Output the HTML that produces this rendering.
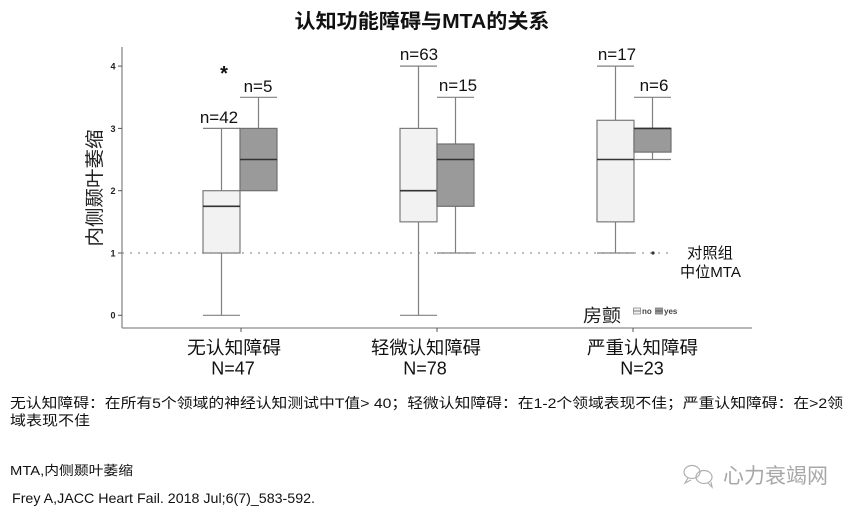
<!DOCTYPE html>
<html><head><meta charset="utf-8"><style>
html,body{margin:0;padding:0;background:#fff;}
svg{display:block;}
text{font-family:"Liberation Sans","Noto Sans CJK SC",sans-serif;}
</style></head><body>
<svg width="856" height="512" viewBox="0 0 856 512" xmlns="http://www.w3.org/2000/svg">
<rect width="856" height="512" fill="#fff"/>
<!-- title -->
<text x="422" y="28" text-anchor="middle" font-size="20" font-weight="bold" fill="#111" textLength="255" lengthAdjust="spacingAndGlyphs">认知功能障碍与MTA的关系</text>

<!-- axes -->
<line x1="122" y1="47" x2="122" y2="328" stroke="#8a8a8a" stroke-width="1.3"/>
<line x1="122" y1="328" x2="752" y2="328" stroke="#8a8a8a" stroke-width="1.3"/>
<g stroke="#555" stroke-width="1">
<line x1="118" y1="66.1" x2="122" y2="66.1"/>
<line x1="118" y1="128.4" x2="122" y2="128.4"/>
<line x1="118" y1="190.7" x2="122" y2="190.7"/>
<line x1="118" y1="253" x2="122" y2="253"/>
<line x1="118" y1="315.3" x2="122" y2="315.3"/>
<line x1="241" y1="328" x2="241" y2="332"/>
<line x1="437" y1="328" x2="437" y2="332"/>
<line x1="633" y1="328" x2="633" y2="332"/>
</g>
<g font-size="9" font-weight="bold" fill="#222" text-anchor="middle">
<text x="113" y="69.5">4</text>
<text x="113" y="131.8">3</text>
<text x="113" y="194">2</text>
<text x="113" y="256.3">1</text>
<text x="113" y="318.6">0</text>
</g>
<text transform="translate(101,188) rotate(-90)" text-anchor="middle" font-size="19" fill="#222" font-family="'Noto Sans CJK SC',sans-serif" textLength="117" lengthAdjust="spacingAndGlyphs">内侧颞叶萎缩</text>

<!-- dotted reference line -->
<line x1="122" y1="253" x2="668" y2="253" stroke="#999" stroke-width="1.3" stroke-dasharray="2,6"/>

<!-- Group 1 -->
<g stroke="#808080" stroke-width="1.2" fill="none">
<line x1="221.5" y1="253" x2="221.5" y2="315.3"/>
<line x1="203" y1="315.3" x2="240" y2="315.3"/>
<line x1="221.5" y1="190.7" x2="221.5" y2="128.4"/>
<line x1="203" y1="128.4" x2="240" y2="128.4"/>
<line x1="258.5" y1="128.4" x2="258.5" y2="97.3"/>
<line x1="240" y1="97.3" x2="277" y2="97.3"/>
</g>
<rect x="203" y="190.7" width="37" height="62.3" fill="#f2f2f2" stroke="#7a7a7a" stroke-width="1.2"/>
<line x1="203" y1="206.3" x2="240" y2="206.3" stroke="#333" stroke-width="1.6"/>
<rect x="240" y="128.4" width="37" height="62.3" fill="#9a9a9a" stroke="#707070" stroke-width="1.2"/>
<line x1="240" y1="159.5" x2="277" y2="159.5" stroke="#333" stroke-width="1.6"/>

<!-- Group 2 -->
<g stroke="#808080" stroke-width="1.2" fill="none">
<line x1="418.5" y1="221.85" x2="418.5" y2="315.3"/>
<line x1="400" y1="315.3" x2="437" y2="315.3"/>
<line x1="418.5" y1="128.4" x2="418.5" y2="66.1"/>
<line x1="400" y1="66.1" x2="437" y2="66.1"/>
<line x1="455.5" y1="144" x2="455.5" y2="97.3"/>
<line x1="437" y1="97.3" x2="474" y2="97.3"/>
<line x1="455.5" y1="206.3" x2="455.5" y2="253"/>
<line x1="437" y1="253" x2="474" y2="253"/>
</g>
<rect x="400" y="128.4" width="37" height="93.45" fill="#f2f2f2" stroke="#7a7a7a" stroke-width="1.2"/>
<line x1="400" y1="190.7" x2="437" y2="190.7" stroke="#333" stroke-width="1.6"/>
<rect x="437" y="144" width="37" height="62.3" fill="#9a9a9a" stroke="#707070" stroke-width="1.2"/>
<line x1="437" y1="159.5" x2="474" y2="159.5" stroke="#333" stroke-width="1.6"/>

<!-- Group 3 -->
<g stroke="#808080" stroke-width="1.2" fill="none">
<line x1="615.5" y1="221.85" x2="615.5" y2="253"/>
<line x1="597" y1="253" x2="634" y2="253"/>
<line x1="615.5" y1="120.3" x2="615.5" y2="66.1"/>
<line x1="597" y1="66.1" x2="634" y2="66.1"/>
<line x1="652.5" y1="128.4" x2="652.5" y2="97.3"/>
<line x1="634" y1="97.3" x2="671" y2="97.3"/>
<line x1="652.5" y1="152.1" x2="652.5" y2="159.5"/>
<line x1="634" y1="159.5" x2="671" y2="159.5"/>
</g>
<rect x="597" y="120.3" width="37" height="101.55" fill="#f2f2f2" stroke="#7a7a7a" stroke-width="1.2"/>
<line x1="597" y1="159.5" x2="634" y2="159.5" stroke="#333" stroke-width="1.6"/>
<rect x="634" y="128.4" width="37" height="23.7" fill="#9a9a9a" stroke="#707070" stroke-width="1.2"/>
<line x1="634" y1="128.4" x2="671" y2="128.4" stroke="#333" stroke-width="1.6"/>
<circle cx="653" cy="253" r="1.6" fill="#333"/>

<!-- n labels -->
<g font-size="17" fill="#111" text-anchor="middle">
<text x="219" y="123">n=42</text>
<text x="258" y="92">n=5</text>
<text x="419" y="60">n=63</text>
<text x="458" y="91">n=15</text>
<text x="617" y="60">n=17</text>
<text x="654" y="91">n=6</text>
</g>
<text x="224" y="80" text-anchor="middle" font-size="20" font-weight="bold" fill="#111">*</text>

<!-- reference label -->
<text x="710" y="258" text-anchor="middle" font-size="15" fill="#111" textLength="46" lengthAdjust="spacingAndGlyphs">对照组</text>
<text x="710.5" y="277" text-anchor="middle" font-size="15" fill="#111" textLength="61" lengthAdjust="spacingAndGlyphs">中位MTA</text>

<!-- legend -->
<text x="583" y="322" font-size="18" fill="#222" textLength="38" lengthAdjust="spacingAndGlyphs">房颤</text>
<rect x="633.5" y="308" width="7" height="6" fill="#f2f2f2" stroke="#888" stroke-width="0.8"/>
<line x1="633.5" y1="311" x2="640.5" y2="311" stroke="#555" stroke-width="0.8"/>
<text x="642" y="314" font-size="8" font-weight="bold" fill="#444">no</text>
<rect x="655.5" y="308" width="7" height="6" fill="#999" stroke="#777" stroke-width="0.8"/>
<line x1="655.5" y1="311" x2="662.5" y2="311" stroke="#444" stroke-width="0.8"/>
<text x="664" y="314" font-size="8" font-weight="bold" fill="#444">yes</text>

<!-- x labels -->
<g font-size="18" fill="#111" text-anchor="middle">
<text x="234" y="354" textLength="94" lengthAdjust="spacingAndGlyphs">无认知障碍</text>
<text x="233" y="374.5">N=47</text>
<text x="426" y="354" textLength="110" lengthAdjust="spacingAndGlyphs">轻微认知障碍</text>
<text x="425" y="374.5">N=78</text>
<text x="642.5" y="354" textLength="111" lengthAdjust="spacingAndGlyphs">严重认知障碍</text>
<text x="642" y="374.5">N=23</text>
</g>

<!-- footnotes -->
<text x="10" y="408" font-size="14" fill="#111" textLength="833" lengthAdjust="spacingAndGlyphs">无认知障碍：在所有5个领域的神经认知测试中T值&gt; 40；轻微认知障碍：在1-2个领域表现不佳；严重认知障碍：在&gt;2领</text>
<text x="10" y="425.5" font-size="14" fill="#111" textLength="80" lengthAdjust="spacingAndGlyphs">域表现不佳</text>
<text x="10" y="475" font-size="13" fill="#111" textLength="123" lengthAdjust="spacingAndGlyphs">MTA,内侧颞叶萎缩</text>
<text x="12" y="503" font-size="14" fill="#111" textLength="303" lengthAdjust="spacingAndGlyphs">Frey A,JACC Heart Fail. 2018 Jul;6(7)_583-592.</text>

<!-- watermark -->
<g fill="none" stroke="#b0b0b0" stroke-width="1.2">
<ellipse cx="692" cy="472" rx="8" ry="6.5"/>
<ellipse cx="704" cy="477" rx="8" ry="6.5"/>
<path d="M688 478 l-3 5 l6 -3"/>
<path d="M708 483 l4 4 l-1 -5"/>
</g>
<text x="723" y="483" font-size="21" fill="#a8a8a8" textLength="105" lengthAdjust="spacingAndGlyphs">心力衰竭网</text>
</svg>
</body></html>
